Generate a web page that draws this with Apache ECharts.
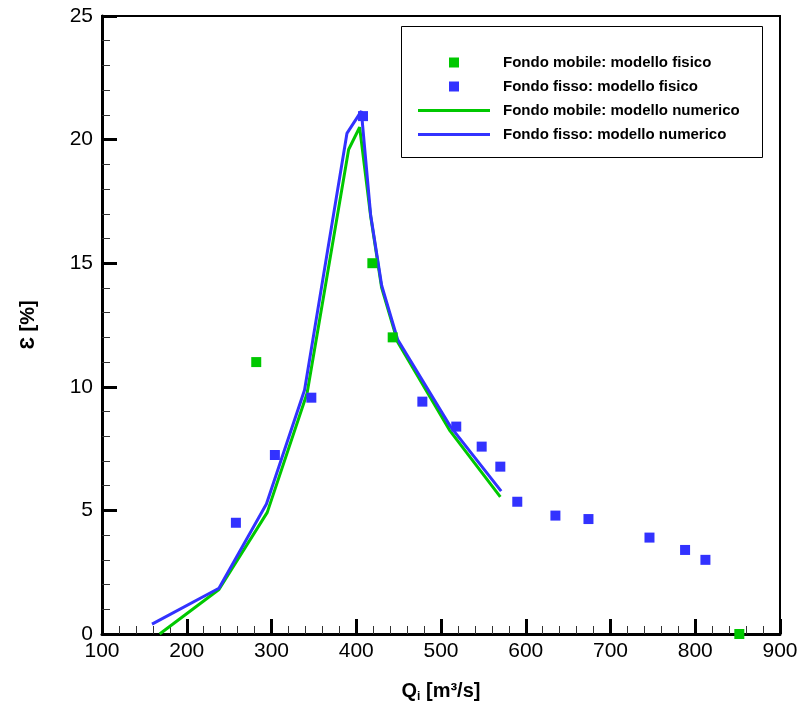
<!DOCTYPE html>
<html>
<head>
<meta charset="utf-8">
<script src="https://cdn.jsdelivr.net/npm/echarts@6/dist/echarts.min.js"></script>
<style>html,body{margin:0;padding:0;background:#fff}#c{width:802px;height:708px}</style>
</head>
<body>
<div id="c"></div>
<script>
// Data
const greenPhysical = [[282, 11.0], [419, 15.0], [443, 12.0], [852, 0.0]];
const bluePhysical = [[258, 4.5], [304, 7.24], [347, 9.56], [408, 20.95], [478, 9.4], [518, 8.39], [548, 7.58], [570, 6.77], [590, 5.35], [635, 4.79], [674, 4.65], [746, 3.9], [788, 3.4], [812, 3.0]];
const greenNumeric = [[168, 0.0], [238, 1.8], [295, 4.92], [342, 9.74], [391, 19.6], [404, 20.5], [417, 16.9], [430, 14.0], [449, 11.8], [510, 8.25], [570, 5.55]];
const blueNumeric = [[159, 0.4], [238, 1.85], [294, 5.26], [339, 9.87], [389, 20.25], [406, 21.15], [417, 16.95], [430, 14.1], [449, 11.9], [511, 8.4], [571, 5.78]];
const seriesNames = ['Fondo mobile: modello fisico', 'Fondo fisso: modello fisico', 'Fondo mobile: modello numerico', 'Fondo fisso: modello numerico'];

const GREEN = '#00c800', BLUE = '#3232ff';
const FONT = '"Liberation Sans", Arial, Helvetica, sans-serif';

const chart = echarts.init(document.getElementById('c'), null, {renderer: 'canvas'});
const legendText = {fontFamily: FONT, fontWeight: 'bold', fontSize: 15, color: '#000'};
chart.setOption({
  animation: false,
  backgroundColor: '#fff',
  grid: {left: 102, right: 22, top: 16, bottom: 74, show: true, borderColor: '#000', borderWidth: 2, backgroundColor: 'transparent'},
  graphic: [{type: 'rect', shape: {x: 401.5, y: 26.5, width: 361, height: 131}, style: {fill: 'none', stroke: '#000', lineWidth: 1}, z: 10}],
  legend: [
    {
      data: [{name: seriesNames[0], icon: 'rect'}, {name: seriesNames[1], icon: 'rect'}],
      orient: 'vertical', left: 449, top: 55, itemWidth: 10, itemHeight: 10, itemGap: 9, padding: 0,
      formatter: n => '{s| }' + n,
      textStyle: Object.assign({rich: {s: {width: 39}}}, legendText)
    },
    {
      data: [{name: seriesNames[2], icon: 'rect'}, {name: seriesNames[3], icon: 'rect'}],
      orient: 'vertical', left: 418, top: 103, itemWidth: 72, itemHeight: 3, itemGap: 9, padding: 0,
      formatter: n => '{s| }' + n,
      textStyle: Object.assign({rich: {s: {width: 8}}}, legendText)
    }
  ],
  xAxis: {
    type: 'value', min: 100, max: 900, interval: 100,
    name: 'Q{sub|i} [m³/s]', nameLocation: 'middle', nameGap: 45,
    nameTextStyle: {fontFamily: FONT, fontWeight: 'bold', fontSize: 20, color: '#000',
      rich: {sub: {fontFamily: FONT, fontWeight: 'bold', fontSize: 12, color: '#000', padding: [12, 0, 0, 0]}}},
    axisLine: {show: true, onZero: false, lineStyle: {color: '#000', width: 3}},
    axisTick: {show: true, inside: true, length: 15, lineStyle: {color: '#000', width: 3}},
    minorTick: {show: true, splitNumber: 5, length: 8, lineStyle: {color: '#333', width: 1}},
    axisLabel: {fontFamily: FONT, fontSize: 21, color: '#000', margin: 7},
    splitLine: {show: false}
  },
  yAxis: {
    type: 'value', min: 0, max: 25, interval: 5,
    name: 'Ɛ [%]', nameLocation: 'middle', nameGap: 64, nameRotate: 90,
    nameTextStyle: {fontFamily: FONT, fontWeight: 'bold', fontSize: 20, color: '#000'},
    axisLine: {show: true, onZero: false, lineStyle: {color: '#000', width: 3}},
    axisTick: {show: true, inside: true, length: 15, lineStyle: {color: '#000', width: 3}},
    minorTick: {show: true, splitNumber: 5, length: 8, lineStyle: {color: '#333', width: 1}},
    axisLabel: {fontFamily: FONT, fontSize: 21, color: '#000', margin: 9},
    splitLine: {show: false}
  },
  series: [
    {name: seriesNames[2], type: 'line', data: greenNumeric, showSymbol: false, symbol: 'none', color: GREEN, lineStyle: {color: GREEN, width: 3}, z: 2},
    {name: seriesNames[3], type: 'line', data: blueNumeric, showSymbol: false, symbol: 'none', color: BLUE, lineStyle: {color: BLUE, width: 3}, z: 3},
    {name: seriesNames[0], type: 'scatter', data: greenPhysical, symbol: 'rect', symbolSize: 10, itemStyle: {color: GREEN, opacity: 1}, z: 4},
    {name: seriesNames[1], type: 'scatter', data: bluePhysical, symbol: 'rect', symbolSize: 10, itemStyle: {color: BLUE, opacity: 1}, z: 4}
  ]
});
</script>
</body>
</html>
